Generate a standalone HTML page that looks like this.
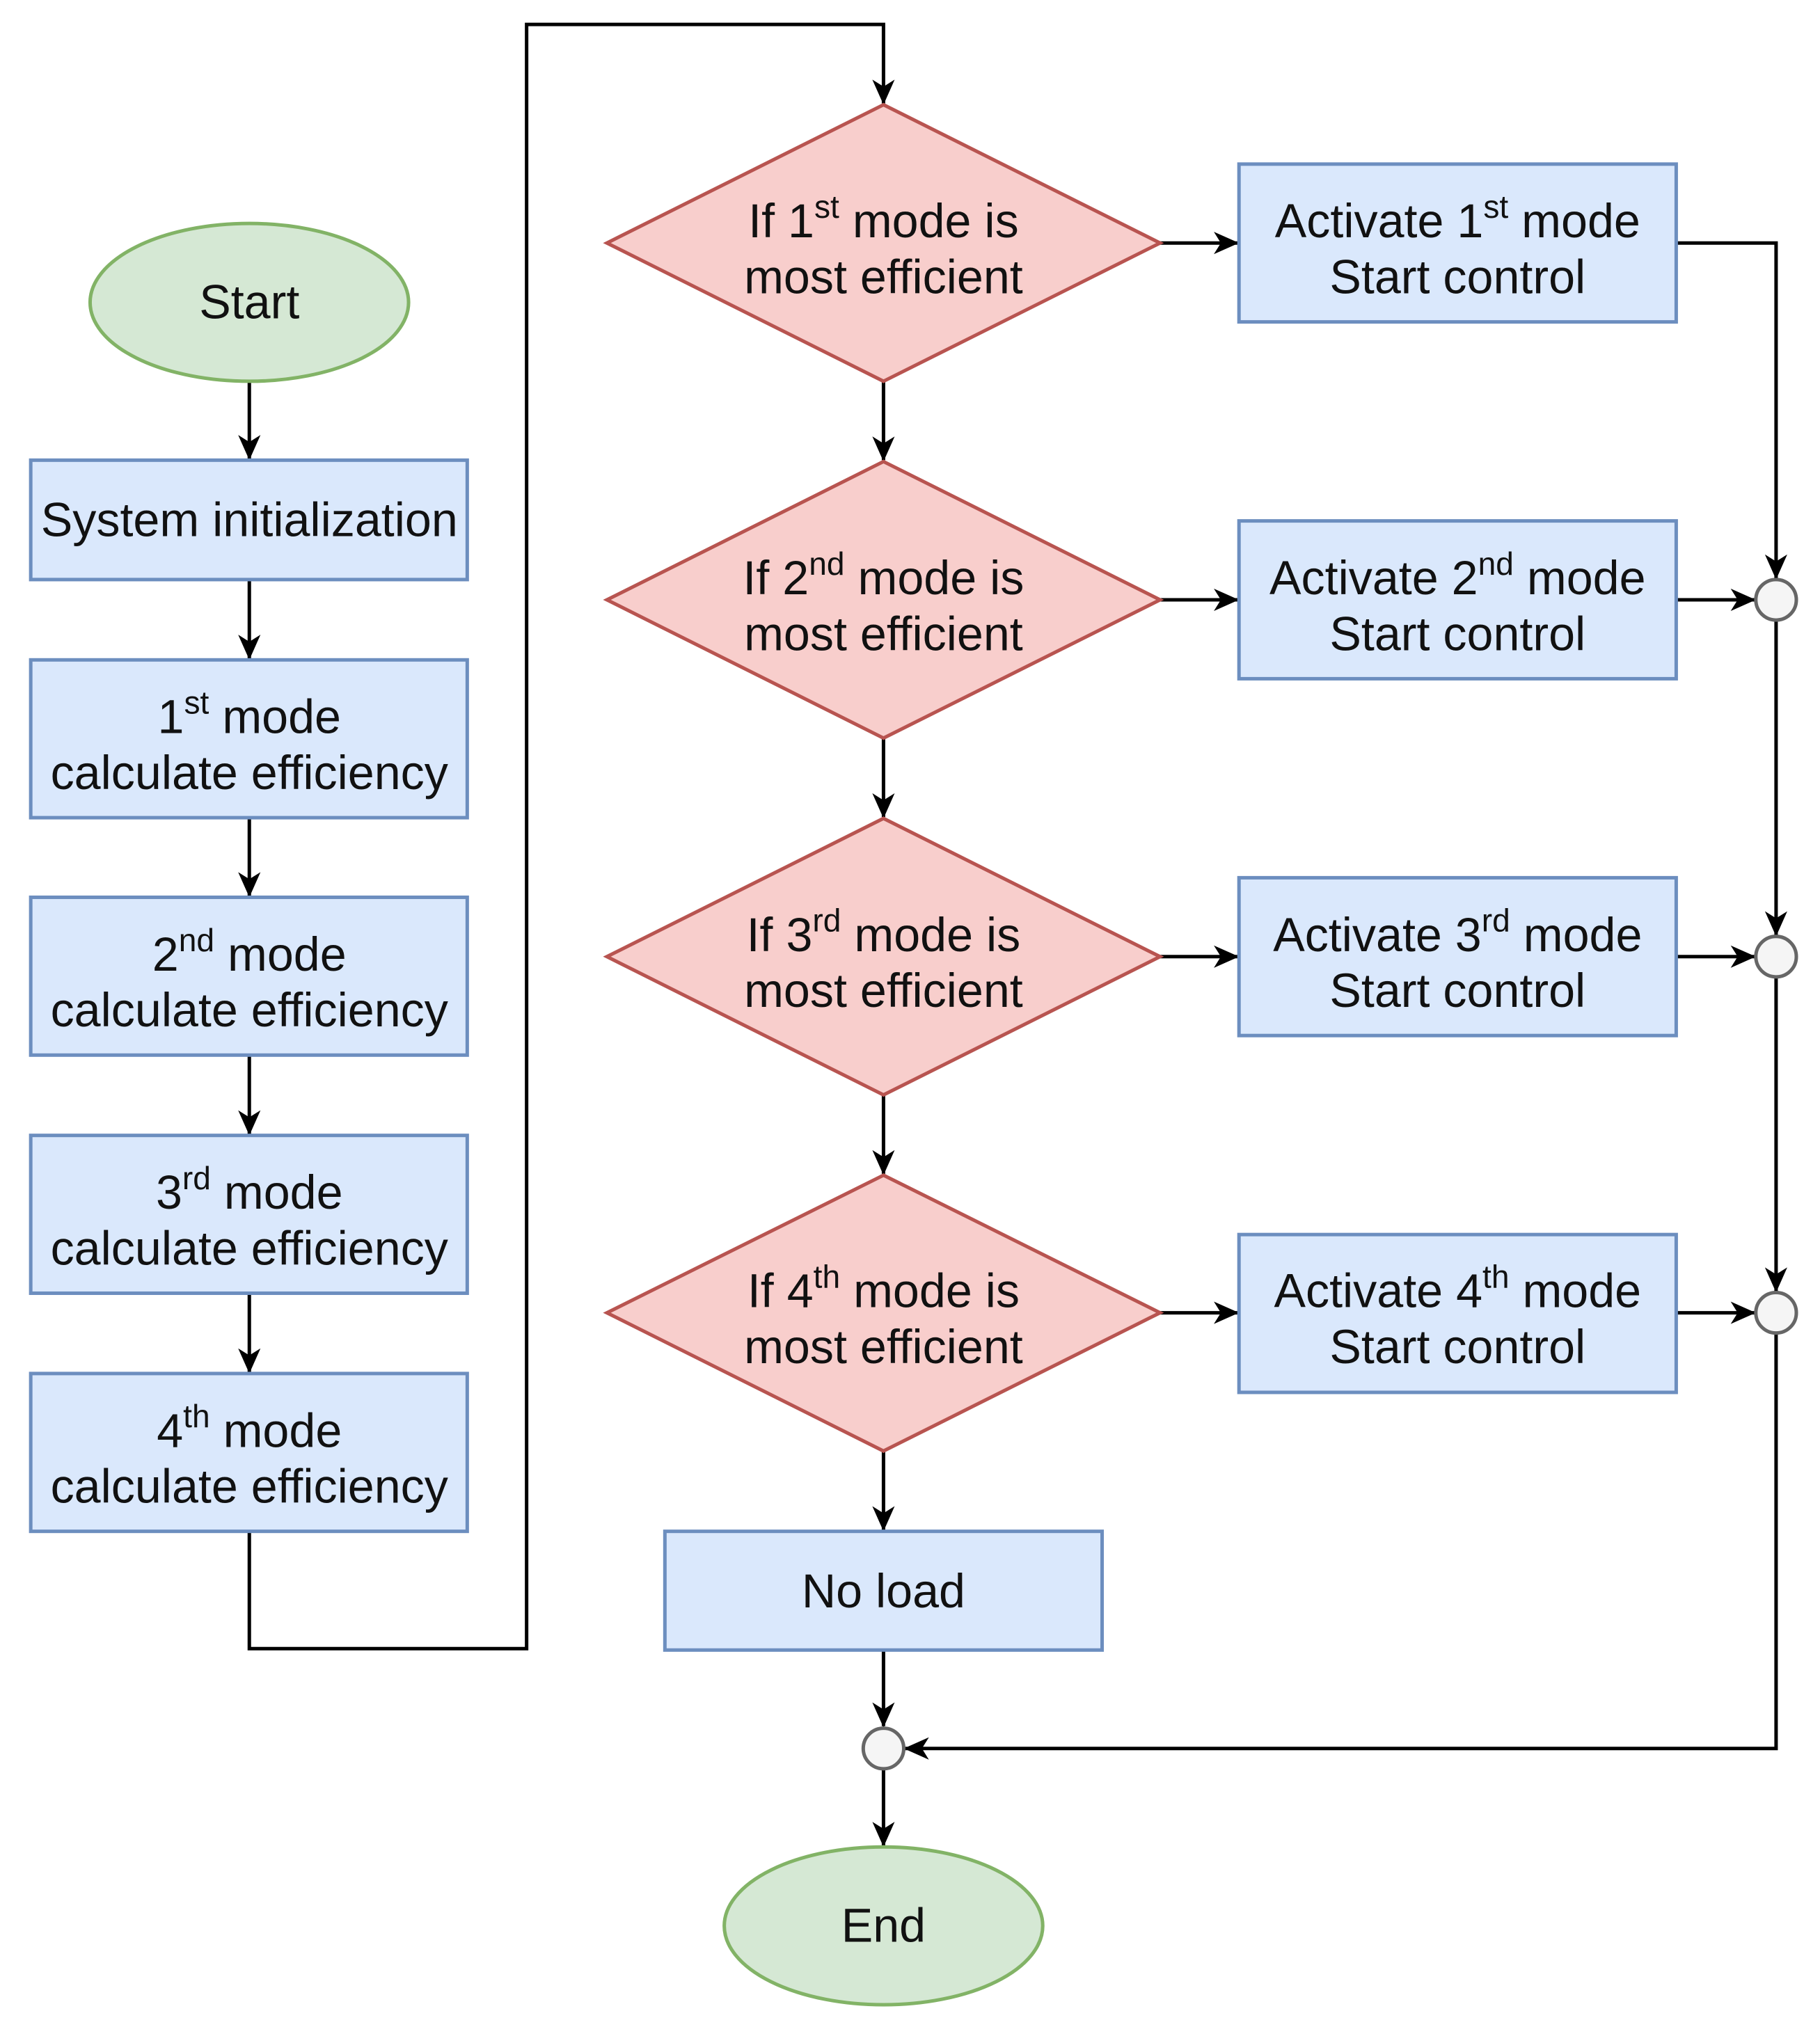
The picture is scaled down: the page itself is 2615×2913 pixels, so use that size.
<!DOCTYPE html>
<html><head><meta charset="utf-8"><style>html,body{margin:0;padding:0;background:#fff}svg{display:block}</style></head>
<body>
<svg width="2615" height="2913" viewBox="0 0 2615 2913" xmlns="http://www.w3.org/2000/svg" font-family="Liberation Sans, Arial, Helvetica, sans-serif" font-size="68" text-anchor="middle" fill="#111">
<defs>
<marker id="a" markerWidth="36" markerHeight="32" refX="34" refY="16" orient="auto" markerUnits="userSpaceOnUse">
<path d="M0,0 L36,16 L0,32 L10,16 Z" fill="#000"/>
</marker>
</defs>
<g transform="scale(1.0035)">
<g stroke="#000" stroke-width="5" fill="none">
<line x1="357" y1="548" x2="357" y2="657" marker-end="url(#a)"/>
<line x1="357" y1="830" x2="357" y2="943" marker-end="url(#a)"/>
<line x1="357" y1="1171" x2="357" y2="1283" marker-end="url(#a)"/>
<line x1="357" y1="1511" x2="357" y2="1624" marker-end="url(#a)"/>
<line x1="357" y1="1852" x2="357" y2="1965" marker-end="url(#a)"/>
<polyline points="357,2193 357,2361 754,2361 754,35 1265,35 1265,148" marker-end="url(#a)"/>
<line x1="1265" y1="546" x2="1265" y2="659" marker-end="url(#a)"/>
<line x1="1265" y1="1057" x2="1265" y2="1170" marker-end="url(#a)"/>
<line x1="1265" y1="1568" x2="1265" y2="1681" marker-end="url(#a)"/>
<line x1="1265" y1="2078" x2="1265" y2="2191" marker-end="url(#a)"/>
<line x1="1265" y1="2363" x2="1265" y2="2472" marker-end="url(#a)"/>
<line x1="1265" y1="2534" x2="1265" y2="2643" marker-end="url(#a)"/>
<line x1="1661" y1="348" x2="1772" y2="348" marker-end="url(#a)"/>
<line x1="1661" y1="859" x2="1772" y2="859" marker-end="url(#a)"/>
<line x1="1661" y1="1370" x2="1772" y2="1370" marker-end="url(#a)"/>
<line x1="1661" y1="1880" x2="1772" y2="1880" marker-end="url(#a)"/>
<line x1="2400" y1="859" x2="2512" y2="859" marker-end="url(#a)"/>
<line x1="2400" y1="1370" x2="2512" y2="1370" marker-end="url(#a)"/>
<line x1="2400" y1="1880" x2="2512" y2="1880" marker-end="url(#a)"/>
<polyline points="2400,348 2543,348 2543,828" marker-end="url(#a)"/>
<line x1="2543" y1="889" x2="2543" y2="1339" marker-end="url(#a)"/>
<line x1="2543" y1="1400" x2="2543" y2="1849" marker-end="url(#a)"/>
<polyline points="2543,1910 2543,2504 1296,2504" marker-end="url(#a)"/>
</g>
<g stroke-width="5">
<ellipse cx="357" cy="433" rx="228" ry="113" fill="#d5e8d4" stroke="#82b366"/>
<ellipse cx="1265" cy="2758" rx="228" ry="113" fill="#d5e8d4" stroke="#82b366"/>
<g fill="#dae8fc" stroke="#6c8ebf">
<rect x="44" y="659" width="625" height="171"/>
<rect x="44" y="945" width="625" height="226"/>
<rect x="44" y="1285" width="625" height="226"/>
<rect x="44" y="1626" width="625" height="226"/>
<rect x="44" y="1967" width="625" height="226"/>
<rect x="1774" y="235" width="626" height="226"/>
<rect x="1774" y="746" width="626" height="226"/>
<rect x="1774" y="1257" width="626" height="226"/>
<rect x="1774" y="1768" width="626" height="226"/>
<rect x="952" y="2193" width="626" height="170"/>
</g>
<g fill="#f8cecc" stroke="#b85450">
<polygon points="1265,150 1661,348 1265,546 869,348"/>
<polygon points="1265,661 1661,859 1265,1057 869,859"/>
<polygon points="1265,1172 1661,1370 1265,1568 869,1370"/>
<polygon points="1265,1683 1661,1880 1265,2078 869,1880"/>
</g>
<g fill="#f5f5f5" stroke="#666">
<circle cx="2543" cy="859" r="29"/>
<circle cx="2543" cy="1370" r="29"/>
<circle cx="2543" cy="1880" r="29"/>
<circle cx="1265" cy="2504" r="29"/>
</g>
</g>
<text x="357" y="456">Start</text>
<text x="1265" y="2781">End</text>
<text x="357" y="768">System initialization</text>
<text x="1265" y="2302">No load</text>
<text x="357" y="1050">1<tspan dy="-28" font-size="46">st</tspan><tspan dy="28"> mode</tspan></text>
<text x="357" y="1130">calculate efficiency</text>
<text x="357" y="1390">2<tspan dy="-28" font-size="46">nd</tspan><tspan dy="28"> mode</tspan></text>
<text x="357" y="1470">calculate efficiency</text>
<text x="357" y="1731">3<tspan dy="-28" font-size="46">rd</tspan><tspan dy="28"> mode</tspan></text>
<text x="357" y="1811">calculate efficiency</text>
<text x="357" y="2072">4<tspan dy="-28" font-size="46">th</tspan><tspan dy="28"> mode</tspan></text>
<text x="357" y="2152">calculate efficiency</text>
<text x="1265" y="340">If 1<tspan dy="-28" font-size="46">st</tspan><tspan dy="28"> mode is</tspan></text>
<text x="1265" y="420">most efficient</text>
<text x="1265" y="851">If 2<tspan dy="-28" font-size="46">nd</tspan><tspan dy="28"> mode is</tspan></text>
<text x="1265" y="931">most efficient</text>
<text x="1265" y="1362">If 3<tspan dy="-28" font-size="46">rd</tspan><tspan dy="28"> mode is</tspan></text>
<text x="1265" y="1442">most efficient</text>
<text x="1265" y="1872">If 4<tspan dy="-28" font-size="46">th</tspan><tspan dy="28"> mode is</tspan></text>
<text x="1265" y="1952">most efficient</text>
<text x="2087" y="340">Activate 1<tspan dy="-28" font-size="46">st</tspan><tspan dy="28"> mode</tspan></text>
<text x="2087" y="420">Start control</text>
<text x="2087" y="851">Activate 2<tspan dy="-28" font-size="46">nd</tspan><tspan dy="28"> mode</tspan></text>
<text x="2087" y="931">Start control</text>
<text x="2087" y="1362">Activate 3<tspan dy="-28" font-size="46">rd</tspan><tspan dy="28"> mode</tspan></text>
<text x="2087" y="1442">Start control</text>
<text x="2087" y="1872">Activate 4<tspan dy="-28" font-size="46">th</tspan><tspan dy="28"> mode</tspan></text>
<text x="2087" y="1952">Start control</text>
</g>
</svg>
</body></html>
